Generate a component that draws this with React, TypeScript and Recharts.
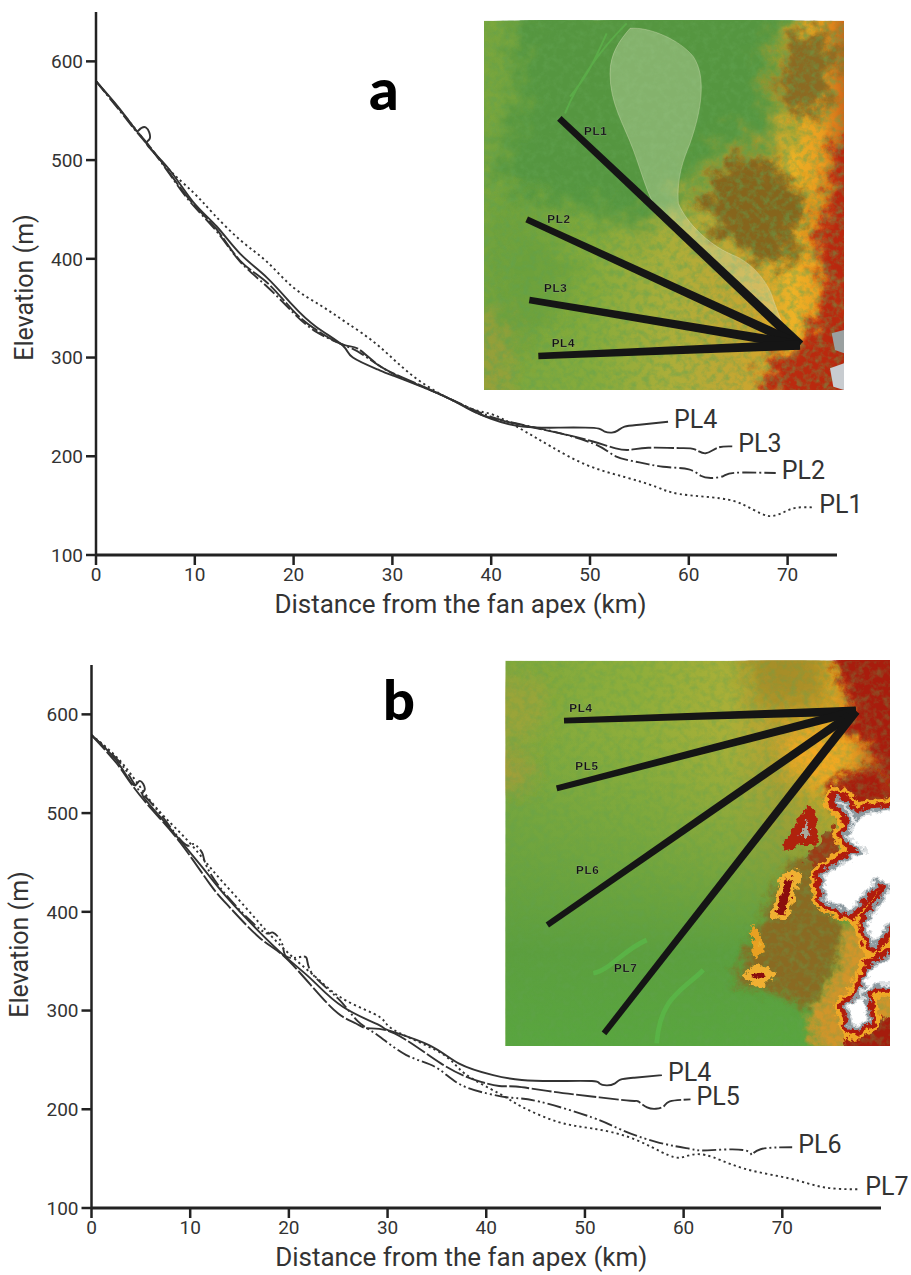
import React from "react";
import { LineChart, Line, XAxis, YAxis, ReferenceDot } from "recharts";

type P = [number, number];
const xTicks = [0, 10, 20, 30, 40, 50, 60, 70];
const yTicks = [100, 200, 300, 400, 500, 600];

// Panel a
const a_pl4: P[] = [[0,580],[2.4,552],[3.9,532],[4.3,530],[5.05,533],[5.45,522],[5.2,515],[7.3,492],[9.8,458],[12.2,433],[14.6,405],[17.3,381],[19.9,353],[22.3,331],[25,312],[26,300],[28.5,288],[30,282],[35,262],[37.5,249],[40,238],[43.2,230],[47,229],[49.5,229],[50.9,228],[51.5,225],[52.2,224],[52.8,226],[53.5,230],[55,232],[57.9,235]];
const a_pl3: P[] = [[0,580],[2.4,551],[4,531],[5.5,513],[7.3,489],[9.8,456],[12.2,430],[14.6,398],[17.3,376],[19.9,348],[22.3,328],[25,313],[26.5,309],[28.5,293],[31,280],[35,262],[38,247],[40.3,238],[46.2,225],[50.3,215],[52.6,208],[54.1,206.6],[55.9,208.6],[59.1,208.3],[60.6,207],[61.7,203],[62.9,208.6],[64.4,210]];
const a_pl2: P[] = [[0,580],[2.4,550],[4,530],[5.5,512],[7.3,488],[9.5,458],[12.2,428],[14.6,397],[17.3,372],[19.9,346],[22.3,326],[25,313],[27,303],[30,284],[35,262],[40,240],[45,228],[50.3,213],[52.6,200],[55,193.8],[57.4,189.4],[60,186.7],[61.2,180.3],[62.3,178],[63.5,180],[64.7,183.3],[68.8,183]];
const a_pl1: P[] = [[0,580],[2.4,551],[4.5,525],[7.15,493],[9.8,467.7],[11.85,446],[14.6,419],[17.3,397],[19.9,371.6],[22.7,353],[25.4,335],[28.7,311],[32.8,276],[37.8,249],[40.3,241.7],[43.2,226.5],[46.1,209.6],[49.7,191],[53.5,179],[56.7,169],[59.1,161.7],[63.2,157.4],[65.6,150.6],[67.3,142],[68.5,139.5],[69.7,143.8],[70.9,147.9],[72.6,148.2]];

// Panel b
const b_pl4: P[] = [[0,579],[2.55,553],[4.2,529],[4.9,532.6],[5.4,524],[5.2,517.5],[6.9,497],[9,472],[11.5,441.7],[13.7,414.8],[16.7,382.8],[19.7,354],[22.4,330.6],[25.5,303.6],[29.2,285],[30.1,280],[34.2,265],[37.2,246.5],[40.7,234.6],[43.6,229.6],[47,228.6],[50.7,228.6],[51.5,226],[52.2,224.2],[53,226],[53.6,230],[55,232],[57.8,234.6]];
const b_pl5: P[] = [[0,579],[2.5,551],[4,530],[6,505],[9,470],[12,428],[14,404.6],[17,374],[19.4,355.9],[22.4,323.8],[25,297],[26.8,286.9],[28,282],[30.7,276.8],[35.4,246.5],[38.9,229.6],[41.3,223.6],[43,223],[46.6,218],[50.7,213],[54.6,208.6],[55.4,208],[56.3,202],[57.2,200.5],[58,203],[58.6,208],[60.7,210]];
const b_pl6: P[] = [[0,579],[3,550],[4.5,527],[6.5,505],[9.3,470],[10.3,468.7],[11.2,460],[11.5,450],[13,425],[16,392],[17.8,378],[18.4,379],[19.3,368],[19.7,355],[21,354],[21.8,353],[22.4,337],[25,312],[27,289],[29,275],[31.9,254.9],[34.8,243],[37.2,226],[40.1,216],[42.5,211.7],[45.4,207.7],[50.7,191.8],[53.6,179.6],[57.2,167],[60.7,159.8],[62.4,158.4],[66,158.8],[66.9,153.7],[67.8,159.5],[71,161.5]];
const b_pl7: P[] = [[0,579],[3.2,549.5],[6.25,509],[9.6,473.7],[12.3,441.7],[15,411.4],[17.7,381],[20.4,354],[23.1,330.6],[25.8,310],[29.2,293.5],[30.7,280],[35.4,257],[37.8,236.3],[41.3,216],[43.6,202.6],[47.2,187.4],[50.7,180.6],[54.8,170.5],[58.4,153.7],[60.1,152],[62.2,153.7],[66,140.3],[70.7,130],[74.2,121],[77.8,119]];

const dashes = { solid: undefined, long: "20 2.5", dashDot: "14 3 2 3", dot: "2.2 3.2", dashDotDot: "14 3 2 3 2 3" };
const toRows = (pts: P[]) => pts.map(([x, y]) => ({ x, y }));
const TEXT = "#333";
const FONT = "Roboto,'Liberation Sans',sans-serif";

type Series = { name: string; pts: P[]; dash?: string };
function Panel({ top, height, left, right, xMax, topPad, series, yLabelX, xLabelDx, yLabelDy }: { top: number; height: number; left: number; right: number; xMax: number; topPad: number; series: Series[]; yLabelX: number; xLabelDx: number; yLabelDy: number }) {
  const bottom = 75;
  return (
    <div style={{ position: "absolute", left: 0, top }}>
      <LineChart width={911} height={height} margin={{ top: topPad, right, bottom: 0, left: 0 }}>
        <XAxis dataKey="x" type="number" domain={[0, xMax]} ticks={xTicks} allowDataOverflow interval={0} height={bottom} tickSize={10} tickMargin={3}
          axisLine={{ stroke: "#222", strokeWidth: 3 }} tickLine={{ stroke: "#222", strokeWidth: 2.5 }} tick={{ fill: TEXT, fontSize: 19, fontFamily: FONT }}
          label={{ value: "Distance from the fan apex (km)", position: "insideBottom", offset: 17, dx: xLabelDx, fill: TEXT, fontSize: 26, fontFamily: FONT }} />
        <YAxis dataKey="y" type="number" domain={[100, 650]} ticks={yTicks} allowDataOverflow interval={0} width={left} tickSize={10} tickMargin={3}
          axisLine={{ stroke: "#222", strokeWidth: 2.5 }} tickLine={{ stroke: "#222", strokeWidth: 2.5 }} tick={{ fill: TEXT, fontSize: 19, fontFamily: FONT }}
          label={{ value: "Elevation (m)", angle: -90, position: "center", dx: yLabelX - left / 2, dy: yLabelDy, fill: TEXT, fontSize: 25, fontFamily: FONT }} />
        {series.map((s) => (
          <Line key={s.name} data={toRows(s.pts)} dataKey="y" type="natural" stroke="#333" strokeWidth={1.9} strokeDasharray={s.dash} dot={false} isAnimationActive={false} />
        ))}
        {series.map((s) => {
          const [x, y] = s.pts[s.pts.length - 1];
          return <ReferenceDot key={s.name + "l"} x={x} y={y} r={0} fill="none" stroke="none" label={{ value: s.name, position: "right", offset: 6, dy: -3, fill: TEXT, fontSize: 25, fontFamily: FONT }} />;
        })}
      </LineChart>
    </div>
  );
}

const FAN = "M480 55 C540 50 630 90 670 140 C710 200 695 300 660 400 C640 450 620 500 625 580 C650 640 720 710 800 740 C860 770 900 830 910 870 L940 950 L990 1000 L930 960 L860 880 L720 740 L590 640 C540 590 520 500 490 420 C460 340 420 280 420 190 C420 130 450 90 480 55 Z";
const raysA: any[] = [["PL1", 268, 325, 342, 376], ["PL2", 170, 628, 232, 640], ["PL3", 178, 870, 222, 846], ["PL4", 205, 1038, 245, 1010]];
const raysB: any[] = [["PL4", 222, 212, 238, 186], ["PL5", 200, 415, 256, 360], ["PL6", 172, 825, 258, 672], ["PL7", 342, 1150, 372, 966]];

function Rays({ rays, ax, ay, w }: { rays: any[]; ax: number; ay: number; w: number }) {
  return (
    <g>
      {rays.map(([n, x, y]) => {
        const dx = ax - x, dy = ay - y, len = Math.hypot(dx, dy), nx = -dy / len, ny = dx / len;
        const a = w * 0.8, b = w * 1.2;
        return <polygon key={n} fill="#151515" points={`${x + nx * a},${y + ny * a} ${x - nx * a},${y - ny * a} ${ax - nx * b},${ay - ny * b} ${ax + nx * b},${ay + ny * b}`} />;
      })}
      {rays.map(([n, , , lx, ly]) => (
        <text key={n + "t"} x={lx} y={ly} fontSize={35} fontWeight={700} letterSpacing={2} fill="#111" fontFamily="'Liberation Sans',sans-serif" stroke="#fff" strokeOpacity={0.25} strokeWidth={1}>{n}</text>
      ))}
    </g>
  );
}

function Noise({ id, k }: { id: string; k: number }) {
  return (
    <filter id={id} x="0" y="0" width="100%" height="100%">
      <feTurbulence type="fractalNoise" baseFrequency={k} numOctaves={5} seed={7} />
      <feColorMatrix values="0 0 0 0 0.12  0 0 0 0 0.36  0 0 0 0 0.08  2.6 0 0 0 -1.05" />
    </filter>
  );
}
function Rough({ id, k, s }: { id: string; k: number; s: number }) {
  return (
    <filter id={id} x="-10%" y="-10%" width="120%" height="120%">
      <feTurbulence type="fractalNoise" baseFrequency={k} numOctaves={5} seed={3} result="n" />
      <feDisplacementMap in="SourceGraphic" in2="n" scale={s} xChannelSelector="R" yChannelSelector="G" />
    </filter>
  );
}

function MapA() {
  return (
    <svg style={{ position: "absolute", left: 470, top: 10 }} width={390} height={390} viewBox="0 0 1170 1170">
      <defs>
        <clipPath id="ca"><rect x={42} y={32} width={1080} height={1108} /></clipPath>
        <linearGradient id="ga" gradientUnits="userSpaceOnUse" x1="42" x2="1122" y1="0" y2="0">
          <stop offset="0" stopColor="#7aa73e" /><stop offset=".3" stopColor="#86ab3c" /><stop offset=".52" stopColor="#acae3a" /><stop offset=".66" stopColor="#bda835" />
          <stop offset=".76" stopColor="#cfa52e" /><stop offset=".86" stopColor="#eeb226" /><stop offset=".94" stopColor="#ea9c20" /><stop offset="1" stopColor="#d06a1a" />
        </linearGradient>
        <filter id="ba" x="-40%" y="-40%" width="180%" height="180%"><feGaussianBlur stdDeviation="38" /></filter>
        <filter id="bt" x="-40%" y="-40%" width="180%" height="180%"><feGaussianBlur stdDeviation="20" /></filter>
        <Noise id="na" k={0.05} />
        <Rough id="ra" k={0.02} s={130} />
      </defs>
      <g clipPath="url(#ca)">
        <rect x={42} y={32} width={1080} height={1108} fill="url(#ga)" />
        <g filter="url(#ra)">
          <polygon points="130,-60 1000,-60 900,200 950,420 780,400 640,560 520,660 300,600 120,560 60,430 130,320" fill="#549640" filter="url(#ba)" />
          <polygon points="60,560 260,660 320,820 200,1000 60,1000" fill="#669f3e" opacity=".7" filter="url(#ba)" />
          <polygon points="-20,900 110,920 120,1200 -20,1200" fill="#b89a38" opacity=".5" filter="url(#ba)" />
          <polygon points="980,60 1080,60 1110,130 1050,330 960,300 910,220" fill="#8c6a22" filter="url(#bt)" />
          <polygon points="800,420 880,440 990,520 1010,620 960,690 1010,740 860,760 760,680 680,590 720,520" fill="#86651f" filter="url(#bt)" />
          <polygon points="1200,340 1090,420 1060,560 1040,700 1070,850 1020,970 880,1050 900,1220 1200,1220" fill="#b8200f" opacity=".95" filter="url(#bt)" />
        </g>
        <rect x={42} y={32} width={1080} height={1108} filter="url(#na)" opacity=".5" />
        <path d="M470 40 C400 110 330 200 285 310 M410 70 C370 160 350 200 300 260" stroke="#5cb04a" strokeWidth={6} fill="none" opacity=".8" />
        <polygon points="1085,970 1122,960 1122,1030 1095,1020" fill="#9aa0a0" />
        <polygon points="1080,1075 1122,1060 1122,1140 1090,1130" fill="#c8ccd0" />
        <path d={FAN} fill="#dce8c0" fillOpacity={0.35} stroke="#e8e8c8" strokeOpacity={0.5} strokeWidth={2} />
      </g>
      <Rays rays={raysA} ax={990} ay={1005} w={12} />
    </svg>
  );
}

const WHITE = "M1210 480 L1130 490 L1090 520 L1070 470 L1040 450 L1100 510 L1070 560 L1125 600 L1060 640 L1000 680 L1010 750 L1080 780 L1165 680 L1210 710 L1130 820 L1150 880 L1210 800 Z M1210 920 L1150 950 L1110 1040 L1150 1000 L1210 1000 Z M1120 1040 L1075 1070 L1090 1130 L1130 1110 Z";

function MapB() {
  return (
    <svg style={{ position: "absolute", left: 490, top: 650 }} width={400} height={400} viewBox="0 0 1200 1200">
      <defs>
        <clipPath id="cb"><rect x={46} y={32} width={1154} height={1156} /></clipPath>
        <linearGradient id="gb" gradientUnits="userSpaceOnUse" x1="46" x2="1200" y1="0" y2="0">
          <stop offset="0" stopColor="#7fa93e" /><stop offset=".35" stopColor="#8fae3b" /><stop offset=".58" stopColor="#a9af38" /><stop offset=".72" stopColor="#c0a030" /><stop offset=".85" stopColor="#e8a824" /><stop offset="1" stopColor="#c84a18" />
        </linearGradient>
        <linearGradient id="gc" gradientUnits="userSpaceOnUse" x1="0" x2="0" y1="250" y2="1188">
          <stop offset="0" stopColor="#5fa040" stopOpacity="0" /><stop offset=".35" stopColor="#5fa040" stopOpacity=".5" /><stop offset=".7" stopColor="#5c9f3e" /><stop offset="1" stopColor="#59a63f" />
        </linearGradient>
        <filter id="bb" x="-40%" y="-40%" width="180%" height="180%"><feGaussianBlur stdDeviation="32" /></filter>
        <filter id="bs" x="-40%" y="-40%" width="180%" height="180%"><feGaussianBlur stdDeviation="12" /></filter>
        <Noise id="nb" k={0.05} />
        <Rough id="rb" k={0.035} s={60} />
        <Rough id="rc" k={0.05} s={32} />
      </defs>
      <g clipPath="url(#cb)">
        <rect x={46} y={32} width={1154} height={1156} fill="url(#gb)" />
        <rect x={46} y={250} width={1154} height={938} fill="url(#gc)" />
        <g filter="url(#rb)">
          <polygon points="-20,80 170,90 150,260 -20,280" fill="#b0a038" opacity=".55" filter="url(#bb)" />
          <polygon points="-20,310 120,310 120,420 -20,420" fill="#c09838" opacity=".6" filter="url(#bb)" />
          <polygon points="760,-40 1000,-40 1020,170 800,170" fill="#a08a28" opacity=".8" filter="url(#bb)" />
          <polygon points="880,250 1050,230 1120,280 1060,400 980,430 900,360" fill="#f0a822" filter="url(#bb)" />
          <polygon points="1000,-40 1090,180 1050,240 1140,280 1230,490 1280,-40" fill="#a81c10" filter="url(#bs)" />
          <polygon points="1010,400 1150,340 1230,470 1040,470" fill="#a81c10" filter="url(#bs)" />
          <polygon points="730,1000 780,880 850,740 900,640 990,600 1010,760 1060,830 1040,940 960,1080 870,1030" fill="#8a6a20" filter="url(#bs)" />
          <polygon points="960,1200 960,1090 1040,960 1060,830 1230,800 1230,1200" fill="#d2952a" filter="url(#bs)" />
          <polygon points="940,620 1040,520 1060,640 1000,690" fill="#9c3a14" />
          <polygon points="1040,1210 1100,1120 1230,1090 1230,1210" fill="#a51c10" />
        </g>
        <rect x={46} y={32} width={1154} height={1156} filter="url(#nb)" opacity=".35" />
        <g filter="url(#rc)">
          <path d="M765 975 L810 1005 L845 970 L800 955 Z M850 800 L885 805 L925 670 L880 680 Z" fill="#8a1010" stroke="#f0b030" strokeWidth={16} strokeLinejoin="round" />
          <path d="M790 830 L820 890 L800 920 Z" fill="#e8b030" stroke="#e8a020" strokeWidth={14} strokeLinejoin="round" />
          <path d="M890 590 L960 480 L975 570 L930 570 Z" fill="#a8a8a0" stroke="#b02010" strokeWidth={24} strokeLinejoin="round" />
          <path d={WHITE} fill="#a5231a" stroke="#f0a828" strokeWidth={80} strokeLinejoin="round" />
          <path d={WHITE} fill="#a5231a" stroke="#b01c10" strokeWidth={56} strokeLinejoin="round" />
          <path d={WHITE} fill="#8d9aa0" stroke="#8d9aa0" strokeWidth={26} strokeLinejoin="round" />
          <path d={WHITE} fill="#fff" stroke="#d8dcde" strokeWidth={6} strokeLinejoin="round" />
        </g>
        <path d="M310 970 C360 960 400 900 470 870 M500 1180 C510 1040 580 1020 640 960" stroke="#5ab848" strokeWidth={14} fill="none" opacity=".8" />
      </g>
      <Rays rays={raysB} ax={1098} ay={183} w={11} />
    </svg>
  );
}

const panelA: Series[] = [
  { name: "PL4", pts: a_pl4, dash: dashes.solid },
  { name: "PL3", pts: a_pl3, dash: dashes.long },
  { name: "PL2", pts: a_pl2, dash: dashes.dashDot },
  { name: "PL1", pts: a_pl1, dash: dashes.dot },
];
const panelB: Series[] = [
  { name: "PL4", pts: b_pl4, dash: dashes.solid },
  { name: "PL5", pts: b_pl5, dash: dashes.long },
  { name: "PL6", pts: b_pl6, dash: dashes.dashDotDot },
  { name: "PL7", pts: b_pl7, dash: dashes.dot },
];

export default function App() {
  return (
    <div style={{ position: "absolute", left: 0, top: 0, width: 911, height: 1275, background: "#fff", overflow: "hidden" }}>
      <Panel top={0} height={630} left={96} right={74} xMax={75} topPad={12} series={panelA} yLabelX={24} xLabelDx={-6} yLabelDy={4} />
      <Panel top={653} height={630} left={91.5} right={30} xMax={80} topPad={12} series={panelB} yLabelX={19} xLabelDx={-25} yLabelDy={8} />
      <MapA />
      <MapB />
      <div style={{ position: "absolute", left: 369, top: 55, fontFamily: "Lato, sans-serif", fontWeight: 900, fontSize: 58, lineHeight: "66px", color: "#000" }}>a</div>
      <div style={{ position: "absolute", left: 383, top: 667, fontFamily: "Lato, sans-serif", fontWeight: 900, fontSize: 56, lineHeight: "64px", color: "#000" }}>b</div>
    </div>
  );
}
